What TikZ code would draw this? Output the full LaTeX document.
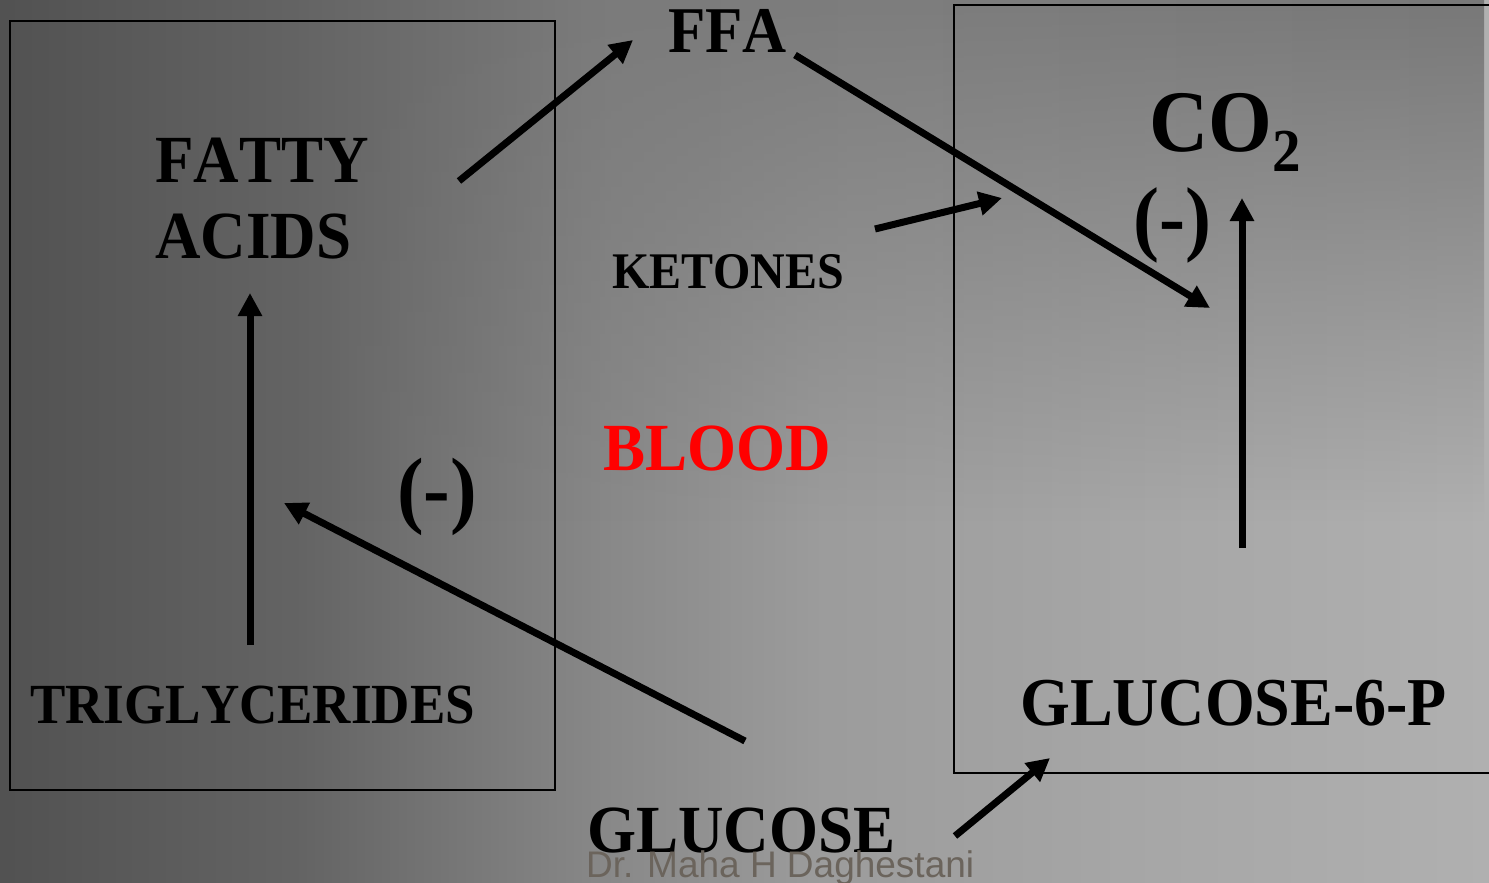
\documentclass[tikz,border=0pt]{standalone}
\usepackage{fontspec}
\setmainfont{Liberation Serif}[Kerning=Off]
\newfontfamily\wmfont{Liberation Sans}
\usepackage{graphicx}
\usetikzlibrary{arrows.meta,fadings}
\definecolor{bloodred}{RGB}{255,0,0}
\definecolor{wmgray}{RGB}{107,100,92}
\pgfdeclarehorizontalshading{bgbase}{100bp}{rgb(0bp)=(.32,.32,.32); rgb(25bp)=(.32,.32,.32); rgb(35bp)=(.39,.39,.39); rgb(45bp)=(.53,.53,.53); rgb(52.5bp)=(.61,.61,.61); rgb(62.5bp)=(.65,.65,.65); rgb(75bp)=(.69,.69,.69); rgb(100bp)=(.69,.69,.69)}
\pgfdeclarehorizontalshading{bgtop}{100bp}{rgb(0bp)=(.32,.32,.32); rgb(25bp)=(.32,.32,.32); rgb(35bp)=(.39,.39,.39); rgb(45bp)=(.48,.48,.48); rgb(55bp)=(.49,.49,.49); rgb(75bp)=(.47,.47,.47); rgb(100bp)=(.47,.47,.47)}
\tikzfading[name=topfade, top color=transparent!0, bottom color=transparent!100]
\newcommand\txt[2]{\scalebox{1}[1.07]{\fontsize{#1}{#1}\selectfont #2}}
\begin{document}
\begin{tikzpicture}[x=1pt,y=-1pt,
  lbl/.style={anchor=base west, inner sep=0pt, font=\bfseries},
  arr/.style={line width=7pt, -{Triangle[length=23pt,width=23pt]}},
  boxline/.style={draw=black, line width=1.5pt}]
\useasboundingbox (0,0) rectangle (1489,883);
\begin{scope}
\clip (0,0) rectangle (1489,883);
\shade[shading=bgbase] (0,0) rectangle (1489,883);
\shade[shading=bgtop, path fading=topfade] (0,0) rectangle (1489,520);
% boxes
\draw[boxline] (10,21) rectangle (555,790);
\draw[boxline] (954,5) rectangle (1500,773);
\end{scope}
% labels
\node[lbl] (ffa) at (668,53) {\txt{61}{FFA}};
\node[lbl] (fatty) at (155,182) {\txt{63}{FATTY}};
\node[lbl] (acids) at (155,258) {\txt{63}{ACIDS}};
\node[lbl] (ketones) at (612,288) {\txt{48}{KETONES}};
\node[lbl, text=bloodred] (blood) at (603,470) {\txt{63}{BLOOD}};
\node[lbl] (inhl) at (397,517) {\txt{80}{(-)}};
\node[lbl] (inhr) at (1133,245) {\txt{78}{(-)}};
\node[lbl] (co2) at (1149,151) {\txt{82}{CO\raisebox{-19pt}{\fontsize{57}{57}\selectfont 2}}};
\node[lbl] (tg) at (30,723) {\txt{53}{TRIGLYCERIDES}};
\node[lbl] (glc) at (587,852) {\txt{63}{GLUCOSE}};
\node[lbl] (g6p) at (1020,725) {\txt{64}{GLUCOSE-6-P}};
% arrow end points
\coordinate (a1s) at (459,181); \coordinate (a1e) at (633,40);
\coordinate (a2s) at (795,55);  \coordinate (a2e) at (1210,308);
\coordinate (a3s) at (875,229); \coordinate (a3e) at (1002,198);
\coordinate (a4s) at (1242,548); \coordinate (a4e) at (1242,198);
\coordinate (a5s) at (250,645); \coordinate (a5e) at (250,293);
\coordinate (a6s) at (745,741); \coordinate (a6e) at (284,503);
\coordinate (a7s) at (955,836); \coordinate (a7e) at (1050,758);
\draw[arr] (a1s) -- (a1e);
\draw[arr] (a2s) -- (a2e);
\draw[arr] (a3s) -- (a3e);
\draw[arr] (a4s) -- (a4e);
\draw[arr] (a5s) -- (a5e);
\draw[arr] (a6s) -- (a6e);
\draw[arr] (a7s) -- (a7e);
% watermark
\node[anchor=base west, inner sep=0pt, text=wmgray, font=\wmfont\fontsize{37}{37}\selectfont] (wm) at (586,877) {Dr. Maha H Daghestani};
\end{tikzpicture}
\end{document}
